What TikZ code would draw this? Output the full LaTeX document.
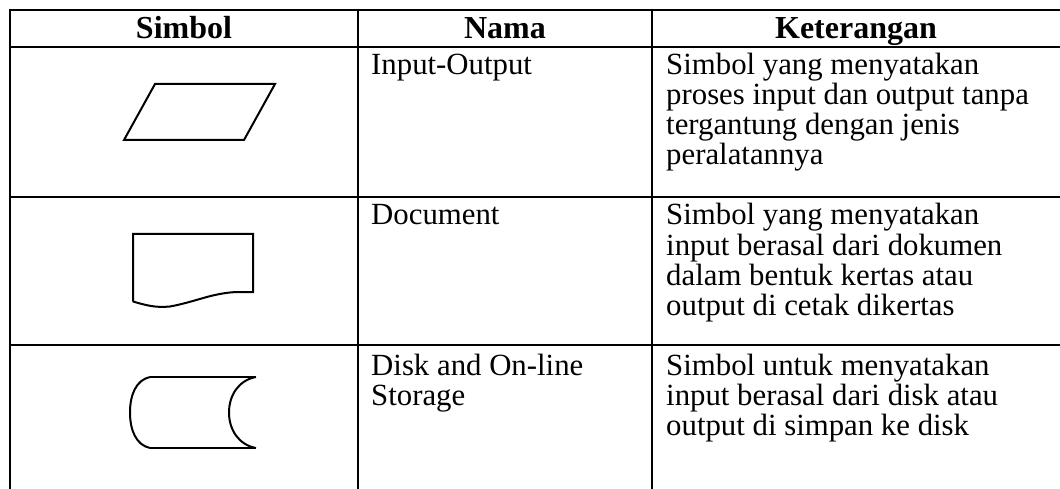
\documentclass[tikz,border=0pt]{standalone}
\usepackage{fontspec}
\setmainfont{Liberation Serif}
\begin{document}
\begin{tikzpicture}[x=1pt,y=-1pt,
  rule/.style={line width=2.5pt},
  sym/.style={line width=2pt, line join=miter},
  txt/.style={anchor=base west, inner sep=0pt, font=\fontsize{30.8}{30}\selectfont},
  head/.style={anchor=base, inner sep=0pt, font=\fontsize{32}{30}\selectfont\bfseries}]
\useasboundingbox (0,0) rectangle (1060,489);
% table rules
\draw[rule] (10,10) -- (1060,10);
\draw[rule] (10,47) -- (1060,47);
\draw[rule] (10,197) -- (1060,197);
\draw[rule] (10,345) -- (1060,345);
\draw[rule] (10,8.75) -- (10,489);
\draw[rule] (358,8.75) -- (358,489);
\draw[rule] (652,8.75) -- (652,489);
% headers
\node[head] (h1) at (184,38.5) {Simbol};
\node[head] (h2) at (505,38.5) {Nama};
\node[head] (h3) at (856,38.5) {Keterangan};
% row 1
\node[txt] (n1) at (371,75) {Input-Output};
\node[txt] (k1a) at (666,75) {Simbol yang menyatakan};
\node[txt] (k1b) at (666,105) {proses input dan output tanpa};
\node[txt] (k1c) at (666,135) {tergantung dengan jenis};
\node[txt] (k1d) at (666,165) {peralatannya};
% row 2
\node[txt] (n2) at (371,225) {Document};
\node[txt] (k2a) at (666,225) {Simbol yang menyatakan};
\node[txt] (k2b) at (666,255) {input berasal dari dokumen};
\node[txt] (k2c) at (666,285) {dalam bentuk kertas atau};
\node[txt] (k2d) at (666,315) {output di cetak dikertas};
% row 3
\node[txt] (n3a) at (371,375) {Disk and On-line};
\node[txt] (n3b) at (371,405) {Storage};
\node[txt] (k3a) at (666,375) {Simbol untuk menyatakan};
\node[txt] (k3b) at (666,405) {input berasal dari disk atau};
\node[txt] (k3c) at (666,435) {output di simpan ke disk};
% symbols
\draw[sym] (155,84) -- (275,84) -- (244,140) -- (124,140) -- cycle;
\draw[sym] (133,301.5) -- (133,234) -- (253,234) -- (253,292) -- (237,292)
  .. controls (212,293) and (195,302) .. (170,306.5)
  .. controls (155,308) and (145,305) .. (133,301.5);
\draw[sym] (150,377) -- (256,377);
\draw[sym] (150,448) -- (256,448);
\draw[sym] (150,377) .. controls (136,380) and (130,395) .. (130,412.5)
  .. controls (130,430) and (136,445) .. (150,448);
\draw[sym] (256,377) .. controls (239,380) and (229,395) .. (229,412.5)
  .. controls (229,430) and (239,445) .. (256,448);
\end{tikzpicture}
\end{document}
